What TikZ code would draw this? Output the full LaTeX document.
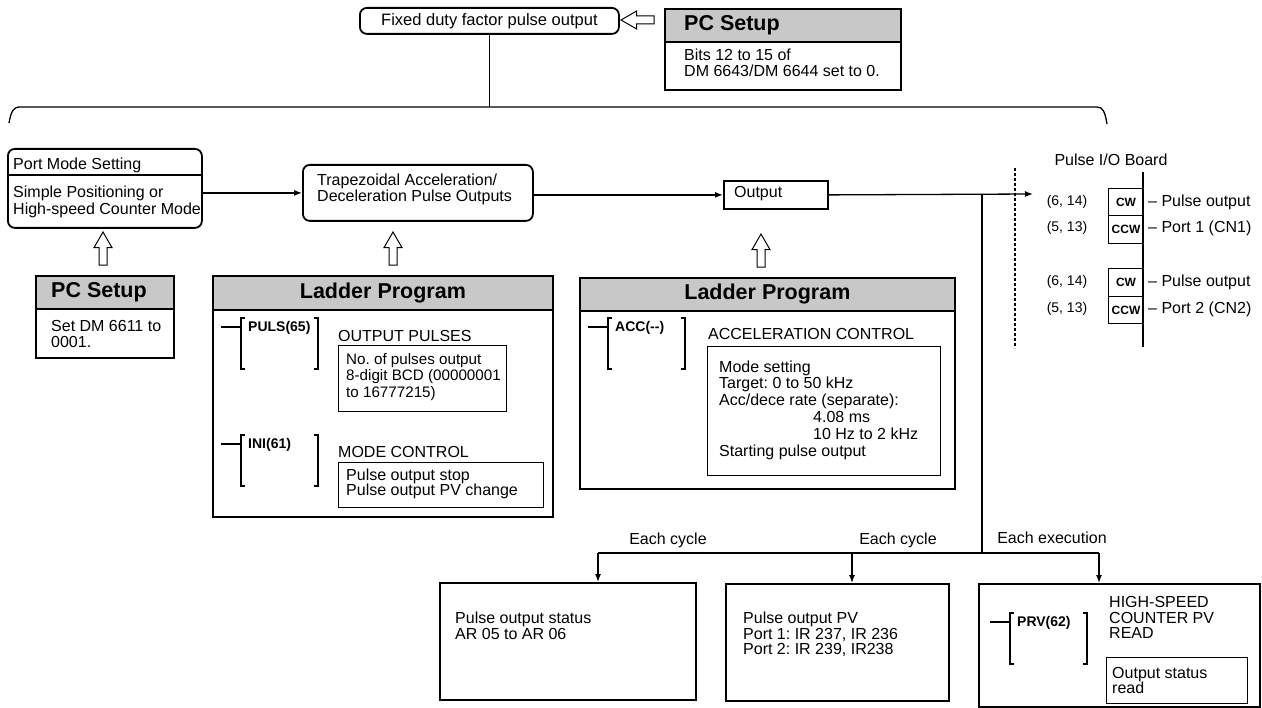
\documentclass[tikz,border=0pt]{standalone}
\usepackage{fontspec}
\setmainfont{Liberation Sans}
\usetikzlibrary{arrows.meta,shapes.arrows,positioning}
\definecolor{hdrgray}{RGB}{200,200,200}
\frenchspacing

\newcommand{\txt}{\fontsize{16}{15.5}\selectfont}
% ladder instruction: name, x of stub, y of bracket top, label
\newcommand{\ladfn}[4]{%
  \draw[line width=1.1pt] (#2,#3+9) -- (#2+20,#3+9);
  \draw[line width=1.3pt] (#2+24,#3) -- (#2+20,#3) -- (#2+20,#3+51) -- (#2+24,#3+51);
  \draw[line width=1.3pt] (#2+93,#3) -- (#2+97,#3) -- (#2+97,#3+51) -- (#2+93,#3+51);
  \node[fnlbl] (#1) at (#2+27,#3+10) {#4};}

\tikzset{
  box/.style={draw, line width=1.8pt, inner sep=0pt, anchor=north west},
  rbox/.style={box, rounded corners=7pt},
  inbox/.style={draw, line width=1.2pt, inner sep=0pt, anchor=north west},
  hdr/.style={box, fill=hdrgray, font=\bfseries\fontsize{21.5}{22}\selectfont},
  hdrlbl/.style={inner sep=0pt, anchor=west, font=\bfseries\fontsize{21.5}{22}\selectfont},
  lbl/.style={inner sep=0pt, align=left, anchor=west, font=\txt},
  fnlbl/.style={inner sep=0pt, anchor=west, font=\bfseries\fontsize{14}{14}\selectfont},
  pin/.style={draw, line width=1pt, inner sep=0pt, anchor=north west, font=\bfseries\fontsize{12}{12}\selectfont},
  pinlbl/.style={inner sep=0pt, font=\fontsize{14}{14}\selectfont},
  wire/.style={line width=1.3pt},
  conn/.style={line width=1.3pt, -{Latex[length=8pt,width=6pt]}},
  hollow/.style={draw, line width=1pt, single arrow, single arrow head extend=5pt,
    single arrow tip angle=60, single arrow head indent=0pt, inner sep=3.5pt,
    minimum height=33pt},
}

\begin{document}
\begin{tikzpicture}[x=1pt,y=-1pt]
    \useasboundingbox (0,0) rectangle (1262,708);
    % --- TOP: FIXED DUTY FACTOR ---
    \node[rbox, minimum width=259, minimum height=26, font=\fontsize{16.5}{16.5}\selectfont] (fixed) at (359,7) {Fixed duty factor pulse output};
    \node[hollow, shape border rotate=180] (harrtop) at (641,20) {};
    \node[box, minimum width=236, minimum height=81] (pctop) at (664,8) {};
    \node[hdr, minimum width=236, minimum height=33] (pctophd) at (664,8) {};
    \node[hdrlbl] (pctoptl) at (684,25) {PC Setup};
    \node[lbl] (pctoptx) at (684,63) {Bits 12 to 15 of\\DM 6643/DM 6644 set to 0.};
    \coordinate (brc) at (488,107);
    \draw[wire] (fixed.south) -- (fixed.south |- brc);
    \draw[wire] (9,123) .. controls (11,112) and (13,107) .. (20,107) -- (1097,107) .. controls (1103,107) and (1105,112) .. (1107,124);

    % --- MIDDLE ROW ---
    \node[rbox, minimum width=194, minimum height=79] (port) at (7,148) {};
    \draw[line width=1.2pt] (7,175) -- (201,175);
    \node[lbl, font=\fontsize{16}{17.5}\selectfont] (porttl) at (13,165) {Port Mode Setting};
    \node[lbl, font=\fontsize{16}{17.5}\selectfont] (porttx) at (13,202) {Simple Positioning or\\High-speed Counter Mode};
    \node[rbox, minimum width=230, minimum height=56] (trap) at (302,164) {};
    \node[lbl, font=\fontsize{16}{14}\selectfont] (traptx) at (317,189) {Trapezoidal Acceleration/\\Deceleration Pulse Outputs};
    \node[box, minimum width=104, minimum height=28] (out) at (723,180) {};
    \node[lbl] (outtx) at (734,194) {Output};
    \draw[conn] (trap.west -| port.east) -- (trap.west);
    \draw[conn] (out.west -| trap.east) -- (out.west);
    \coordinate (brdin) at (1033,194);
    \draw[conn] (out.east) -- (brdin);

    \node[hollow, shape border rotate=90] (harr1) at (103,252) {};
    \node[hollow, shape border rotate=90] (harr2) at (393,252) {};
    \node[hollow, shape border rotate=90] (harr3) at (761,254) {};

    % --- PC SETUP (LEFT) ---
    \node[box, minimum width=138, minimum height=82] (pcset) at (35,275) {};
    \node[hdr, minimum width=138, minimum height=33] (pcsethd) at (35,275) {};
    \node[hdrlbl] (pcsettl) at (51,292) {PC Setup};
    \node[lbl] (pcsettx) at (51,334) {Set DM 6611 to\\0001.};

    % --- LADDER PROGRAM 1 ---
    \node[box, minimum width=340, minimum height=241] (lad1) at (212,275) {};
    \node[hdr, minimum width=340, minimum height=34] (lad1hd) at (212,275) {Ladder Program};
    \ladfn{puls}{221}{318}{PULS(65)}
    \node[lbl] (pulstl) at (338,336) {OUTPUT PULSES};
    \node[inbox, minimum width=168, minimum height=66] (pulsbx) at (338,345) {};
    \node[lbl, font=\fontsize{15.2}{16.5}\selectfont] (pulstx) at (346,377) {No. of pulses output\\8-digit BCD (00000001\\to 16777215)};
    \ladfn{ini}{221}{435}{INI(61)}
    \node[lbl] (initl) at (338,452) {MODE CONTROL};
    \node[inbox, minimum width=205, minimum height=45] (inibx) at (338,462) {};
    \node[lbl] (initx) at (346,484) {Pulse output stop\\Pulse output PV change};

    % --- LADDER PROGRAM 2 ---
    \node[box, minimum width=375, minimum height=211] (lad2) at (579,277) {};
    \node[hdr, minimum width=375, minimum height=33] (lad2hd) at (579,277) {Ladder Program};
    \ladfn{acc}{588}{318}{ACC(-{}-)}
    \node[lbl] (acctl) at (708,334) {ACCELERATION CONTROL};
    \node[inbox, minimum width=233, minimum height=129] (accbx) at (707,346) {};
    \node[lbl, font=\fontsize{16}{16.8}\selectfont] (acctx) at (719,410) {Mode setting\\Target: 0 to 50 kHz\\Acc/dece rate (separate):\\\hspace*{94pt}4.08 ms\\\hspace*{94pt}10 Hz to 2 kHz\\Starting pulse output};

    % --- PULSE I/O BOARD ---
    \draw[wire, dash pattern=on 3pt off 2pt] (1015,168) -- (1015,348);
    \node[pinlbl, font=\txt] (brdtl) at (1111,160) {Pulse I/O Board};
    \node[pin, minimum width=35, minimum height=27] (cw1) at (1108,188) {CW};
    \node[pin, minimum width=35, minimum height=28] (ccw1) at (1108,215) {CCW};
    \node[pin, minimum width=35, minimum height=28] (cw2) at (1108,268) {CW};
    \node[pin, minimum width=35, minimum height=27] (ccw2) at (1108,296) {CCW};
    \draw[wire] (1143,172) -- (1143,347);
    \node[pinlbl] (pin1a) at (1067,202) {(6, 14)};
    \node[pinlbl] (pin1b) at (1067,228) {(5, 13)};
    \node[pinlbl] (pin2a) at (1067,282) {(6, 14)};
    \node[pinlbl] (pin2b) at (1067,309) {(5, 13)};
    \node[lbl] (port1a) at (1148,202) {-- Pulse output};
    \node[lbl] (port1b) at (1148,228) {-- Port 1 (CN1)};
    \node[lbl] (port2a) at (1148,282) {-- Pulse output};
    \node[lbl] (port2b) at (1148,309) {-- Port 2 (CN2)};

    % --- BOTTOM ROW ---
    \node[box, minimum width=256, minimum height=117] (stat) at (439,582) {};
    \node[lbl, font=\fontsize{16}{16}\selectfont] (stattx) at (455,626) {Pulse output status\\AR 05 to AR 06};
    \node[box, minimum width=223, minimum height=117] (pv) at (725,583) {};
    \node[lbl] (pvtx) at (743,634.5) {Pulse output PV\\Port 1: IR 237, IR 236\\Port 2: IR 239, IR238};
    \node[box, minimum width=281, minimum height=123] (prv) at (978,583) {};
    \ladfn{prvf}{990}{613}{PRV(62)}
    \node[lbl] (prvtl) at (1109,617.5) {HIGH-SPEED\\COUNTER PV\\READ};
    \node[inbox, minimum width=141, minimum height=46] (prvbx) at (1106,657) {};
    \node[lbl, font=\fontsize{16}{15}\selectfont] (prvtx) at (1112,680.5) {Output status\\read};

    \coordinate (jn) at (982,194);
    \coordinate (bus) at (982,553);
    \coordinate (busl) at (598,553);
    \coordinate (busm) at (852,553);
    \coordinate (busr) at (1099,553);
    \draw[wire] (jn) -- (bus);
    \draw[wire] (busl) -- (busr);
    \draw[conn] (busl) -- (busl |- stat.north);
    \draw[conn] (busm) -- (busm |- pv.north);
    \draw[conn] (busr) -- (busr |- prv.north);
    \node[lbl, anchor=center] (cyc1) at (668,540) {Each cycle};
    \node[lbl, anchor=center] (cyc2) at (898,540) {Each cycle};
    \node[lbl, anchor=center] (exe) at (1052,538) {Each execution};
\end{tikzpicture}
\end{document}
